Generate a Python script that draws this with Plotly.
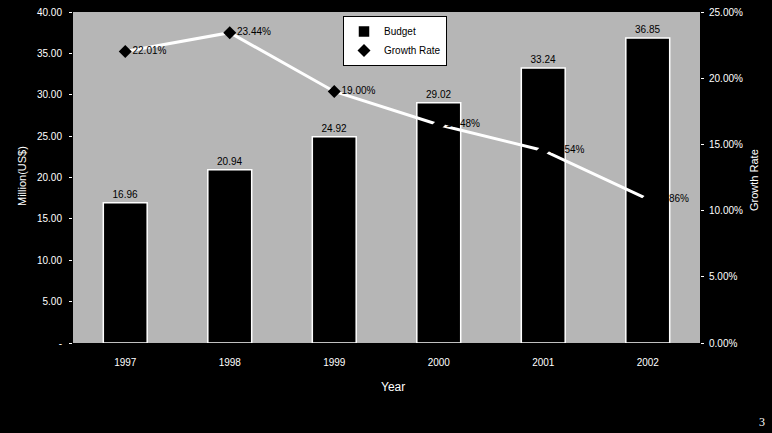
import plotly.graph_objects as go

years = ["1997", "1998", "1999", "2000", "2001", "2002"]
budget = [16.96, 20.94, 24.92, 29.02, 33.24, 36.85]
growth = [22.01, 23.44, 19.00, 16.48, 14.54, 10.86]
left_ticks = [0, 5, 10, 15, 20, 25, 30, 35, 40]
left_labels = ["-", "5.00", "10.00", "15.00", "20.00", "25.00", "30.00", "35.00", "40.00"]
right_ticks = [0, 5, 10, 15, 20, 25]
right_labels = ["0.00%", "5.00%", "10.00%", "15.00%", "20.00%", "25.00%"]

FONT = "Liberation Sans Narrow, Arial Narrow, Liberation Sans, Arial, sans-serif"
W, H = 772, 433
L, R, T, B = 73, 72, 12, 90
pw = W - L - R
ph = H - T - B


def px_x(x):
    return (x - L) / pw


def px_y(y):
    return (H - B - y) / ph


fig = go.Figure()
fig.add_trace(go.Bar(
    x=years, y=budget, name="Budget",
    marker=dict(color="black", line=dict(color="white", width=1.5)),
    width=0.42,
    text=[f"{v:.2f}" for v in budget], textposition="outside",
    textfont=dict(color="black", size=10, family=FONT),
    cliponaxis=False,
))
fig.add_trace(go.Scatter(
    x=years, y=growth, name="Growth Rate", yaxis="y2",
    mode="lines+markers+text",
    line=dict(color="white", width=3),
    marker=dict(symbol="diamond", color="black", size=10),
    text=[f"{v:.2f}%" for v in growth], textposition="middle right",
    textfont=dict(color="black", size=10, family=FONT),
    cliponaxis=False,
))

fig.update_layout(
    width=W, height=H,
    margin=dict(l=L, r=R, t=T, b=B, autoexpand=False),
    paper_bgcolor="black", plot_bgcolor="#b6b6b6",
    font=dict(family=FONT, color="white", size=10),
    showlegend=True,
    legend=dict(
        x=px_x(343), y=px_y(16), xanchor="left", yanchor="top",
        bgcolor="white", bordercolor="black", borderwidth=1,
        font=dict(color="black", size=10, family=FONT),
        tracegroupgap=0, itemwidth=30,
    ),
    xaxis=dict(
        type="category", showgrid=False, zeroline=False, automargin=False,
        tickfont=dict(color="white", size=10, family=FONT),
        ticks="", showline=False, ticklabelstandoff=12,
    ),
    yaxis=dict(
        range=[0, 40], tickvals=left_ticks, ticktext=left_labels, automargin=False,
        showgrid=False, zeroline=False, ticks="outside", ticklen=3,
        tickcolor="white", tickfont=dict(color="white", size=10, family=FONT),
        ticklabelstandoff=5,
    ),
    yaxis2=dict(
        range=[0, 25], tickvals=right_ticks, ticktext=right_labels, automargin=False,
        overlaying="y", side="right", showgrid=False, zeroline=False,
        ticks="outside", ticklen=3, tickcolor="white",
        tickfont=dict(color="white", size=10, family=FONT),
        ticklabelstandoff=3,
    ),
    annotations=[
        dict(text="Year", x=px_x(393), y=px_y(387), xref="paper", yref="paper",
             xanchor="center", yanchor="middle", showarrow=False,
             font=dict(color="white", size=12, family="Liberation Sans, Arial, sans-serif")),
        dict(text="Million(US$)", x=px_x(22), y=px_y(176), xref="paper", yref="paper",
             xanchor="center", yanchor="middle", textangle=-90, showarrow=False,
             font=dict(color="white", size=11, family="Liberation Sans, Arial, sans-serif")),
        dict(text="Growth Rate", x=px_x(754), y=px_y(180), xref="paper", yref="paper",
             xanchor="center", yanchor="middle", textangle=-90, showarrow=False,
             font=dict(color="white", size=11, family="Liberation Sans, Arial, sans-serif")),
        dict(text="3", x=px_x(762), y=px_y(422), xref="paper", yref="paper",
             xanchor="center", yanchor="middle", showarrow=False,
             font=dict(color="white", size=12, family="Liberation Serif, serif")),
    ],
)

fig.write_html(
    "out.html",
    config={"displayModeBar": False},
    post_script="document.body.style.margin='0';document.body.style.overflow='hidden';",
)
